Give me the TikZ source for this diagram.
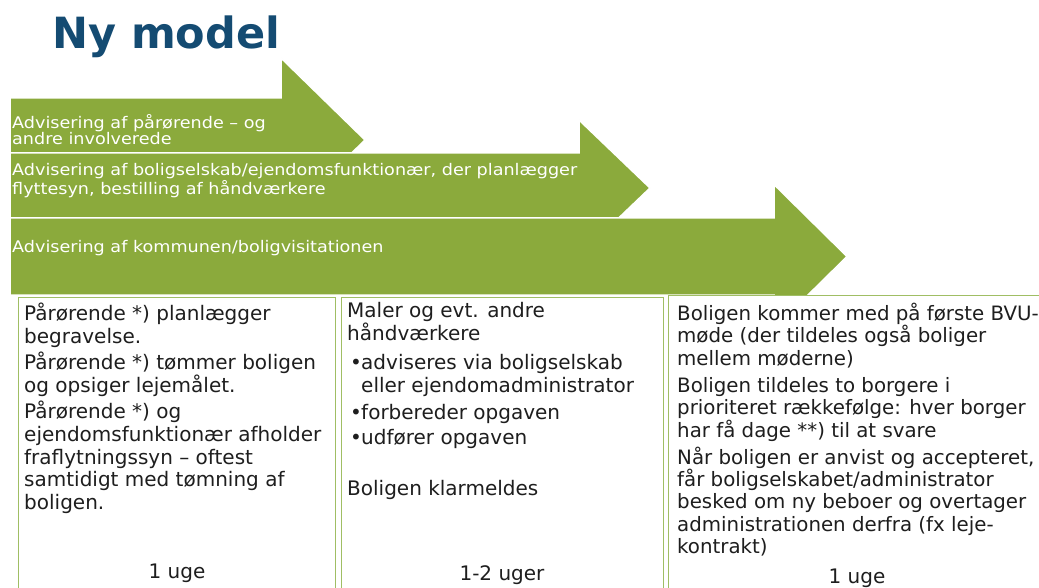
\documentclass[tikz,border=0pt]{standalone}
\usepackage{fontspec}
\setmainfont{DejaVu Sans}
\newfontfamily\arrowfont[FakeStretch=1.1]{DejaVu Sans}
\definecolor{arrowgreen}{RGB}{139,170,60}
\definecolor{titleblue}{RGB}{20,75,114}
\definecolor{boxline}{RGB}{160,190,100}
\definecolor{bodytext}{RGB}{30,30,30}
\begin{document}
\begin{tikzpicture}[x=1pt,y=-1pt,
  arrowshape/.style={fill=arrowgreen, draw=white, line width=1.5pt, line join=miter},
  arrowlabel/.style={anchor=north west, inner sep=0pt, text=white, align=left},
  panel/.style={draw=boxline, fill=white, line width=1.3pt, anchor=north west, inner sep=0pt},
  paneltext/.style={anchor=north west, inner sep=0pt, text=bodytext, font=\fontsize{20}{22.8}\selectfont, align=left},
  duration/.style={anchor=base, inner sep=0pt, text=bodytext, font=\fontsize{20}{22.8}\selectfont},
]
\useasboundingbox (0,0) rectangle (1039,588);
\clip (0,0) rectangle (1039,588);

% title
\node[anchor=base west, inner sep=0pt, text=titleblue, font=\bfseries\fontsize{43}{43}\selectfont] (title) at (52,49) {Ny model};

% arrow 1
\path[arrowshape] (10,98) -- (281,98) -- (281,58) -- (365,140) -- (281,222) -- (281,182) -- (10,182) -- cycle;
% arrow 2
\path[arrowshape] (10,153) -- (579,153) -- (579,120) -- (650,188) -- (579,256) -- (579,223) -- (10,223) -- cycle;
% arrow 3
\path[arrowshape] (10,218) -- (774,218) -- (774,184.5) -- (847,256.5) -- (774,328.5) -- (774,295) -- (10,295) -- cycle;

\node[arrowlabel, font=\arrowfont\fontsize{16}{14.5}\selectfont] (lab1) at (12,114) {Advisering af pårørende – og\\andre involverede};
\node[arrowlabel, font=\arrowfont\fontsize{16}{19}\selectfont] (lab2) at (12,163) {Advisering af boligselskab/ejendomsfunktionær, der planlægger\\flyttesyn, bestilling af håndværkere};
\node[arrowlabel, anchor=base west, font=\arrowfont\fontsize{16}{19}\selectfont] (lab3) at (12,253) {Advisering af kommunen/boligvisitationen};

% panels
\node[panel, minimum width=317pt, minimum height=400pt] (box1) at (18,297) {};
\node[panel, minimum width=322pt, minimum height=400pt] (box2) at (341,297) {};
\node[panel, minimum width=380pt, minimum height=400pt] (box3) at (668,295) {};

\node[paneltext] (text1) at (24,302.5) {Pårørende *) planlægger\\
begravelse.\\[4pt]
Pårørende *) tømmer boligen\\
og opsiger lejemålet.\\[3pt]
Pårørende *) og\\
ejendomsfunktionær afholder\\
fraflytningssyn – oftest\\
samtidigt med tømning af\\
boligen.};

\node[paneltext] (text2) at (347,302.5) {Maler og evt. andre\\
håndværkere\\[6pt]
\hspace*{3pt}\makebox[11pt][l]{•}adviseres via boligselskab\\
\hspace*{14pt}eller ejendomadministrator\\[4pt]
\hspace*{3pt}\makebox[11pt][l]{•}forbereder opgaven\\[3pt]
\hspace*{3pt}\makebox[11pt][l]{•}udfører opgaven\\[28pt]
Boligen klarmeldes};

\node[paneltext, font=\fontsize{19.8}{22.3}\selectfont] (text3) at (677,303) {Boligen kommer med på første BVU-\\
møde (der tildeles også boliger\\
mellem møderne)\\[5pt]
Boligen tildeles to borgere i\\
prioriteret rækkefølge: hver borger\\
har få dage **) til at svare\\[5pt]
Når boligen er anvist og accepteret,\\
får boligselskabet/administrator\\
besked om ny beboer og overtager\\
administrationen derfra (fx leje-\\
kontrakt)};

\node[duration] (dur1) at (177,578) {1 uge};
\node[duration] (dur2) at (502,580) {1-2 uger};
\node[duration] (dur3) at (857,583) {1 uge};
\end{tikzpicture}
\end{document}
